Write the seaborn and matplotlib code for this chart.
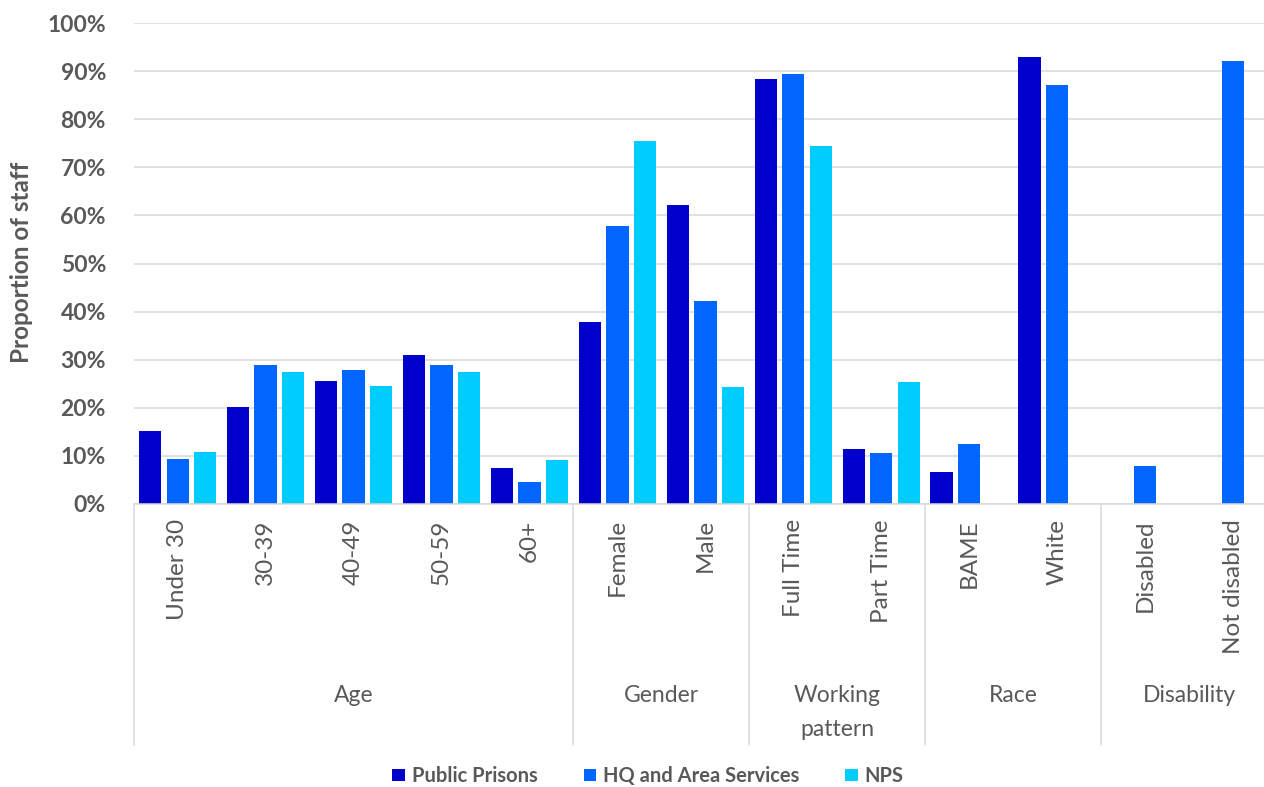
import numpy as np
import pandas as pd
import matplotlib
matplotlib.use("Agg")
import matplotlib.pyplot as plt
from matplotlib.patches import Patch
from matplotlib.ticker import PercentFormatter, MultipleLocator
import matplotlib.transforms as mtransforms
import seaborn as sns

# ---------------- data ----------------
categories = ["Under 30", "30-39", "40-49", "50-59", "60+",
              "Female", "Male", "Full Time", "Part Time",
              "BAME", "White", "Disabled", "Not disabled"]
group_names = ["Age", "Gender", "Working\npattern", "Race", "Disability"]
group_sizes = [5, 2, 2, 2, 2]
series_names = ["Public Prisons", "HQ and Area Services", "NPS"]
public_prisons = [15.2, 20.2, 25.6, 30.9, 7.4, 37.9, 62.1, 88.3, 11.4, 6.7, 93.0, np.nan, np.nan]
hq_area = [9.3, 29.0, 27.8, 29.0, 4.5, 57.9, 42.1, 89.3, 10.7, 12.5, 87.2, 8.0, 92.0]
nps = [10.9, 27.5, 24.5, 27.5, 9.1, 75.4, 24.3, 74.4, 25.3, np.nan, np.nan, np.nan, np.nan]
colors = ["#0000CC", "#0066FF", "#00CCFF"]

rows = []
for name, vals in zip(series_names, [public_prisons, hq_area, nps]):
    for c, v in zip(categories, vals):
        if not np.isnan(v):
            rows.append({"category": c, "series": name, "value": v})
df = pd.DataFrame(rows)

# ---------------- style ----------------
sns.set_theme(style="white")
plt.rcParams["font.family"] = ["Lato", "DejaVu Sans"]
grey = "#595959"
gridc = "#D9D9D9"

W, H = 1264, 787
fig = plt.figure(figsize=(W / 100, H / 100), dpi=100)
left_px, right_px, top_px, bottom_px = 133.7, 1277.0, 23.0, 504.0
ax = fig.add_axes([left_px / W, 1 - bottom_px / H,
                   (right_px - left_px) / W, (bottom_px - top_px) / H])

sns.barplot(data=df, x="category", y="value", hue="series",
            order=categories, hue_order=series_names, palette=colors,
            saturation=1, width=0.94, gap=0.19, ax=ax, legend=False,
            edgecolor="none")

ax.set_xlim(-0.5, len(categories) - 0.5)
ax.set_ylim(0, 100)
ax.yaxis.set_major_locator(MultipleLocator(10))
ax.yaxis.set_major_formatter(PercentFormatter(100, decimals=0))
ax.grid(axis="y", color=gridc, linewidth=1.1)
ax.set_axisbelow(True)
for s in ["top", "right", "left"]:
    ax.spines[s].set_visible(False)
ax.spines["bottom"].set_color(gridc)
ax.spines["bottom"].set_linewidth(1.1)

ax.set_xlabel("")
ax.set_ylabel("")
ax.tick_params(axis="y", length=0, pad=20, labelsize=16.5, labelcolor=grey)
for t in ax.get_yticklabels():
    t.set_fontweight("bold")
ax.tick_params(axis="x", length=0, pad=11, labelsize=17.5, labelcolor=grey)
ax.set_xticks(range(len(categories)))
ax.set_xticklabels(categories, rotation=90, va="top", ha="center")

# group separators and group labels
trans = mtransforms.blended_transform_factory(ax.transData, ax.transAxes)
sep_bottom = (bottom_px - 745) / (bottom_px - top_px)
label_y = (bottom_px - 685) / (bottom_px - top_px)
start = 0
bounds = [-0.5]
for gname, gsize in zip(group_names, group_sizes):
    end = start + gsize - 1
    ax.text((start + end) / 2, label_y, gname, transform=trans, ha="center",
            va="top", fontsize=16.5, color=grey, linespacing=1.75)
    start += gsize
    bounds.append(start - 0.5)
for b in bounds:
    ax.plot([b, b], [0, sep_bottom], transform=trans, color=gridc,
            linewidth=1.1, clip_on=False)

# y label
fig.text(22 / W, 1 - 262 / H, "Proportion of staff", rotation=90,
         ha="center", va="center", fontsize=17.5, fontweight="bold", color=grey)

# legend
handles = [Patch(facecolor=c, edgecolor="none") for c in colors]
leg = fig.legend(handles, series_names, loc="center",
                 bbox_to_anchor=(648 / W, 1 - 776 / H), ncol=3, frameon=False,
                 handlelength=0.6, handleheight=0.6, handletextpad=0.35,
                 columnspacing=2.3,
                 prop={"size": 14.5, "weight": "bold"})
for t in leg.get_texts():
    t.set_color(grey)

fig.savefig("out.png", dpi=100, facecolor="white")
